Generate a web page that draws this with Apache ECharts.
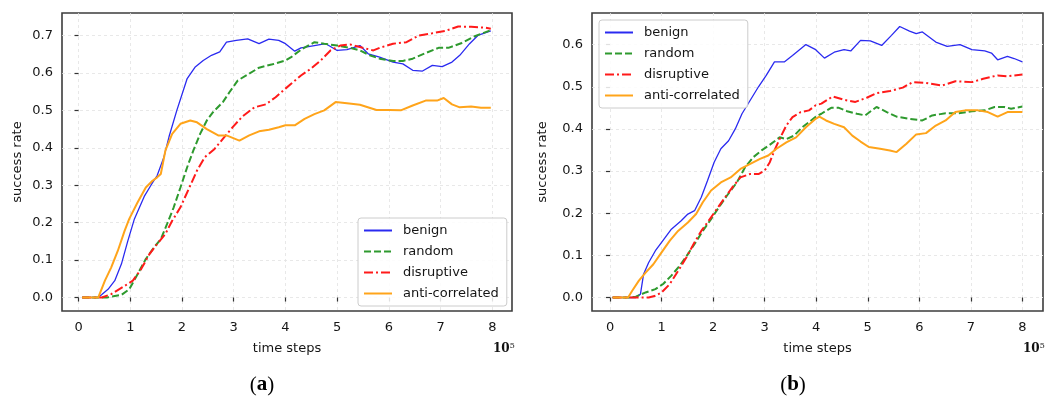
<!DOCTYPE html>
<html>
<head>
<meta charset="utf-8">
<script src="https://cdn.jsdelivr.net/npm/echarts@6/dist/echarts.min.js"></script>
<style>
  html, body { margin: 0; padding: 0; background: #fff; }
  #chart { width: 1055px; height: 399px; }
</style>
</head>
<body>
<div id="chart"></div>
<script>
// x values are time steps in units of 1e5
const seriesNames = ['benign', 'random', 'disruptive', 'anti-correlated'];
const xTicks = [0, 1, 2, 3, 4, 5, 6, 7, 8];
const yTicksA = [0, 0.1, 0.2, 0.3, 0.4, 0.5, 0.6, 0.7];
const yTicksB = [0, 0.1, 0.2, 0.3, 0.4, 0.5, 0.6];

// (a)
const benignAX = [0.07, 0.38, 0.45, 0.57, 0.70, 0.83, 0.95, 1.08, 1.27, 1.40, 1.52, 1.65, 1.75, 1.90, 2.10, 2.25, 2.41, 2.57, 2.73, 2.86, 3.05, 3.27, 3.49, 3.68, 3.87, 4.0, 4.18, 4.30, 4.56, 4.78, 5.0, 5.19, 5.44, 5.60, 5.82, 6.08, 6.27, 6.46, 6.65, 6.84, 7.03, 7.22, 7.37, 7.56, 7.72, 7.97];
const benignAY = [0, 0, 0.008, 0.022, 0.045, 0.09, 0.15, 0.21, 0.27, 0.30, 0.326, 0.375, 0.43, 0.50, 0.585, 0.615, 0.633, 0.647, 0.656, 0.682, 0.687, 0.691, 0.678, 0.69, 0.687, 0.678, 0.658, 0.667, 0.673, 0.678, 0.66, 0.662, 0.673, 0.651, 0.642, 0.629, 0.624, 0.607, 0.605, 0.62, 0.617, 0.629, 0.647, 0.678, 0.70, 0.712];

const randomAX = [0.07, 0.55, 0.83, 0.98, 1.14, 1.30, 1.46, 1.59, 1.71, 1.84, 1.97, 2.10, 2.22, 2.35, 2.48, 2.60, 2.79, 2.92, 3.08, 3.30, 3.49, 3.75, 4.0, 4.11, 4.30, 4.56, 4.75, 5.0, 5.25, 5.44, 5.63, 5.82, 6.08, 6.27, 6.46, 6.71, 6.96, 7.15, 7.41, 7.66, 7.97];
const randomAY = [0, 0, 0.007, 0.022, 0.062, 0.103, 0.134, 0.156, 0.196, 0.241, 0.294, 0.348, 0.393, 0.437, 0.473, 0.495, 0.522, 0.549, 0.58, 0.598, 0.614, 0.623, 0.633, 0.642, 0.662, 0.682, 0.678, 0.673, 0.667, 0.66, 0.647, 0.638, 0.632, 0.632, 0.638, 0.653, 0.667, 0.667, 0.68, 0.698, 0.714];

const disruptiveAX = [0.07, 0.45, 0.63, 0.89, 1.05, 1.21, 1.37, 1.52, 1.68, 1.81, 1.97, 2.13, 2.29, 2.44, 2.63, 2.79, 2.98, 3.17, 3.40, 3.62, 3.81, 4.0, 4.11, 4.30, 4.49, 4.68, 4.87, 5.06, 5.25, 5.44, 5.70, 5.82, 6.08, 6.34, 6.58, 6.84, 7.09, 7.34, 7.59, 7.85, 7.97];
const disruptiveAY = [0, 0, 0.009, 0.031, 0.045, 0.076, 0.116, 0.143, 0.17, 0.205, 0.241, 0.29, 0.339, 0.375, 0.397, 0.424, 0.455, 0.484, 0.508, 0.516, 0.535, 0.558, 0.571, 0.593, 0.611, 0.633, 0.66, 0.673, 0.676, 0.669, 0.66, 0.667, 0.678, 0.682, 0.70, 0.706, 0.712, 0.724, 0.723, 0.721, 0.718];

const antiAX = [0.07, 0.38, 0.41, 0.51, 0.63, 0.76, 0.89, 0.98, 1.14, 1.30, 1.43, 1.52, 1.59, 1.68, 1.81, 1.97, 2.16, 2.29, 2.48, 2.70, 2.86, 3.11, 3.30, 3.49, 3.68, 3.87, 4.0, 4.18, 4.37, 4.56, 4.75, 4.97, 5.19, 5.44, 5.76, 6.01, 6.23, 6.46, 6.71, 6.93, 7.06, 7.22, 7.37, 7.59, 7.78, 7.97];
const antiAY = [0, 0, 0.004, 0.045, 0.08, 0.125, 0.178, 0.21, 0.254, 0.294, 0.312, 0.321, 0.33, 0.393, 0.437, 0.464, 0.473, 0.468, 0.45, 0.433, 0.433, 0.419, 0.433, 0.444, 0.448, 0.455, 0.46, 0.46, 0.477, 0.49, 0.50, 0.522, 0.519, 0.515, 0.501, 0.501, 0.50, 0.513, 0.526, 0.526, 0.533, 0.516, 0.508, 0.51, 0.507, 0.507];

// (b)
const benignBX = [0.05, 0.50, 0.59, 0.65, 0.75, 0.88, 1.0, 1.19, 1.38, 1.51, 1.64, 1.77, 1.89, 2.02, 2.15, 2.30, 2.43, 2.56, 2.72, 2.88, 3.03, 3.19, 3.38, 3.54, 3.70, 3.80, 3.99, 4.16, 4.35, 4.54, 4.67, 4.86, 5.05, 5.27, 5.46, 5.62, 5.81, 5.94, 6.06, 6.32, 6.54, 6.79, 7.02, 7.27, 7.40, 7.52, 7.71, 7.84, 8.0];
const benignBY = [0, 0, 0.008, 0.055, 0.083, 0.111, 0.131, 0.162, 0.182, 0.198, 0.206, 0.238, 0.277, 0.321, 0.353, 0.372, 0.40, 0.436, 0.468, 0.50, 0.527, 0.559, 0.559, 0.574, 0.59, 0.60, 0.588, 0.568, 0.582, 0.588, 0.585, 0.61, 0.609, 0.598, 0.622, 0.643, 0.632, 0.626, 0.63, 0.606, 0.596, 0.60, 0.588, 0.585, 0.58, 0.564, 0.572, 0.567, 0.559];

const randomBX = [0.05, 0.37, 0.50, 0.69, 0.88, 1.03, 1.19, 1.35, 1.51, 1.64, 1.80, 1.96, 2.11, 2.27, 2.46, 2.62, 2.78, 2.94, 3.13, 3.29, 3.42, 3.57, 3.73, 3.86, 3.99, 4.10, 4.29, 4.44, 4.60, 4.79, 4.95, 5.17, 5.37, 5.56, 5.81, 6.06, 6.25, 6.51, 6.76, 7.02, 7.27, 7.46, 7.65, 7.78, 8.0];
const randomBY = [0, 0, 0.002, 0.012, 0.02, 0.032, 0.052, 0.075, 0.103, 0.127, 0.158, 0.186, 0.214, 0.242, 0.273, 0.309, 0.333, 0.349, 0.365, 0.38, 0.376, 0.384, 0.404, 0.416, 0.429, 0.436, 0.45, 0.45, 0.442, 0.436, 0.432, 0.452, 0.44, 0.429, 0.424, 0.42, 0.432, 0.437, 0.437, 0.442, 0.444, 0.452, 0.452, 0.448, 0.453];

const disruptiveBX = [0.05, 0.75, 0.88, 1.0, 1.16, 1.32, 1.48, 1.64, 1.77, 1.89, 2.05, 2.21, 2.37, 2.53, 2.72, 2.88, 3.0, 3.10, 3.19, 3.29, 3.42, 3.54, 3.70, 3.86, 3.99, 4.10, 4.32, 4.54, 4.76, 4.98, 5.17, 5.43, 5.68, 5.87, 6.13, 6.44, 6.70, 7.02, 7.24, 7.52, 7.71, 8.0];
const disruptiveBY = [0, 0, 0.004, 0.012, 0.032, 0.063, 0.095, 0.131, 0.158, 0.178, 0.206, 0.234, 0.261, 0.285, 0.293, 0.293, 0.301, 0.321, 0.349, 0.376, 0.408, 0.428, 0.44, 0.444, 0.456, 0.46, 0.477, 0.469, 0.464, 0.474, 0.485, 0.49, 0.498, 0.511, 0.509, 0.503, 0.513, 0.511, 0.519, 0.527, 0.525, 0.529];

const antiBX = [0.05, 0.35, 0.43, 0.56, 0.69, 0.84, 1.0, 1.16, 1.32, 1.51, 1.67, 1.80, 1.96, 2.15, 2.34, 2.53, 2.72, 2.91, 3.07, 3.23, 3.42, 3.61, 3.80, 3.99, 4.06, 4.19, 4.35, 4.54, 4.70, 4.86, 5.02, 5.24, 5.43, 5.56, 5.75, 5.94, 6.13, 6.32, 6.51, 6.70, 6.89, 7.14, 7.33, 7.52, 7.71, 8.0];
const antiBY = [0, 0, 0.016, 0.04, 0.059, 0.079, 0.107, 0.135, 0.158, 0.178, 0.198, 0.226, 0.254, 0.273, 0.285, 0.305, 0.317, 0.329, 0.337, 0.353, 0.368, 0.38, 0.404, 0.424, 0.429, 0.42, 0.412, 0.404, 0.384, 0.37, 0.357, 0.353, 0.349, 0.345, 0.365, 0.387, 0.39, 0.408, 0.42, 0.44, 0.444, 0.444, 0.44, 0.429, 0.44, 0.44];

const FONT = 'DejaVu Sans';
const TEXT = '#151515';

const pairs = (xs, ys) => xs.map((x, i) => [x, ys[i]]);

const lineStyles = {
  'benign': { color: '#2a2af0', width: 1.3, type: 'solid' },
  'random': { color: '#2e9a2e', width: 2, type: [7, 3] },
  'disruptive': { color: '#ff1a1a', width: 2, type: [9, 3, 2, 3] },
  'anti-correlated': { color: '#ffa41a', width: 2, type: 'solid' }
};

const makeSeries = (name, xs, ys, idx) => ({
  name: name,
  type: 'line',
  xAxisIndex: idx,
  yAxisIndex: idx,
  showSymbol: false,
  symbol: 'none',
  color: lineStyles[name].color,
  lineStyle: lineStyles[name],
  data: pairs(xs, ys)
});

const makeXAxis = (idx, min, max) => ({
  type: 'value',
  gridIndex: idx,
  min: min,
  max: max,
  name: 'time steps',
  nameLocation: 'middle',
  nameGap: 31,
  nameTextStyle: { fontFamily: FONT, fontSize: 13, color: TEXT },
  axisLine: { show: false },
  axisTick: { show: true, length: 4, lineStyle: { color: '#333', width: 1.2 }, customValues: xTicks },
  axisLabel: { fontFamily: FONT, fontSize: 13, color: TEXT, margin: 10, customValues: xTicks },
  splitLine: { show: true, lineStyle: { color: '#e2e2e2', type: [3, 3], width: 0.8 } }
});

const makeYAxis = (idx, min, max, ticks, gap) => ({
  type: 'value',
  gridIndex: idx,
  min: min,
  max: max,
  name: 'success rate',
  nameLocation: 'middle',
  nameGap: gap,
  nameTextStyle: { fontFamily: FONT, fontSize: 13, color: TEXT },
  axisLine: { show: false },
  axisTick: { show: true, length: 4, lineStyle: { color: '#333', width: 1.2 }, customValues: ticks },
  axisLabel: {
    fontFamily: FONT, fontSize: 13, color: TEXT, margin: 9,
    customValues: ticks,
    formatter: v => v.toFixed(1)
  },
  splitLine: { show: true, lineStyle: { color: '#e2e2e2', type: [3, 3], width: 0.8 } }
});

const makeLegend = (left, top) => ({
  data: seriesNames,
  orient: 'vertical',
  left: left,
  top: top,
  padding: [6, 8, 6, 5],
  itemWidth: 28,
  itemHeight: 12,
  itemGap: 8,
  // the line icon keeps its dash; hide the marker dot
  itemStyle: { opacity: 0 },
  backgroundColor: 'rgba(255,255,255,0.85)',
  borderColor: '#cccccc',
  borderWidth: 1,
  borderRadius: 3,
  selectedMode: false,
  textStyle: { fontFamily: FONT, fontSize: 13, color: TEXT, lineHeight: 12, padding: [0, 0, 0, 6] }
});

const chart = echarts.init(document.getElementById('chart'));

const option = {
  animation: false,
  backgroundColor: '#ffffff',
  grid: [
    { left: 62, top: 13, width: 450, height: 298, show: true, borderColor: '#3c3c3c', borderWidth: 1.6, backgroundColor: 'transparent' },
    { left: 592, top: 13, width: 451, height: 298, show: true, borderColor: '#3c3c3c', borderWidth: 1.6, backgroundColor: 'transparent' }
  ],
  xAxis: [
    makeXAxis(0, -0.32, 8.38),
    makeXAxis(1, -0.35, 8.40)
  ],
  yAxis: [
    makeYAxis(0, -0.036, 0.76, yTicksA, 38),
    makeYAxis(1, -0.032, 0.675, yTicksB, 43)
  ],
  legend: [
    makeLegend(358, 218),
    makeLegend(599, 20)
  ],
  series: [
    makeSeries('benign', benignAX, benignAY, 0),
    makeSeries('random', randomAX, randomAY, 0),
    makeSeries('disruptive', disruptiveAX, disruptiveAY, 0),
    makeSeries('anti-correlated', antiAX, antiAY, 0),
    makeSeries('benign', benignBX, benignBY, 1),
    makeSeries('random', randomBX, randomBY, 1),
    makeSeries('disruptive', disruptiveBX, disruptiveBY, 1),
    makeSeries('anti-correlated', antiBX, antiBY, 1)
  ],
  graphic: [
    // 10^5 multiplier under each x axis
    {
      type: 'text', left: 493, top: 342,
      style: {
        text: '{b|10}{s|5}',
        rich: {
          b: { fontFamily: 'DejaVu Serif', fontWeight: 'bold', fontSize: 12, fill: '#111' },
          s: { fontFamily: 'DejaVu Serif', fontSize: 8, fill: '#111', verticalAlign: 'top', padding: [0, 0, 6, 0] }
        }
      }
    },
    {
      type: 'text', left: 1023, top: 342,
      style: {
        text: '{b|10}{s|5}',
        rich: {
          b: { fontFamily: 'DejaVu Serif', fontWeight: 'bold', fontSize: 12, fill: '#111' },
          s: { fontFamily: 'DejaVu Serif', fontSize: 8, fill: '#111', verticalAlign: 'top', padding: [0, 0, 6, 0] }
        }
      }
    },
    // panel captions
    {
      type: 'text', x: 262, y: 385,
      style: {
        text: '({b|a})', align: 'center', verticalAlign: 'middle',
        fontFamily: 'Liberation Serif', fontSize: 21, fill: '#000',
        rich: { b: { fontFamily: 'Liberation Serif', fontWeight: 'bold', fontSize: 21, fill: '#000' } }
      }
    },
    {
      type: 'text', x: 793, y: 385,
      style: {
        text: '({b|b})', align: 'center', verticalAlign: 'middle',
        fontFamily: 'Liberation Serif', fontSize: 21, fill: '#000',
        rich: { b: { fontFamily: 'Liberation Serif', fontWeight: 'bold', fontSize: 21, fill: '#000' } }
      }
    }
  ]
};

chart.setOption(option);
</script>
</body>
</html>
